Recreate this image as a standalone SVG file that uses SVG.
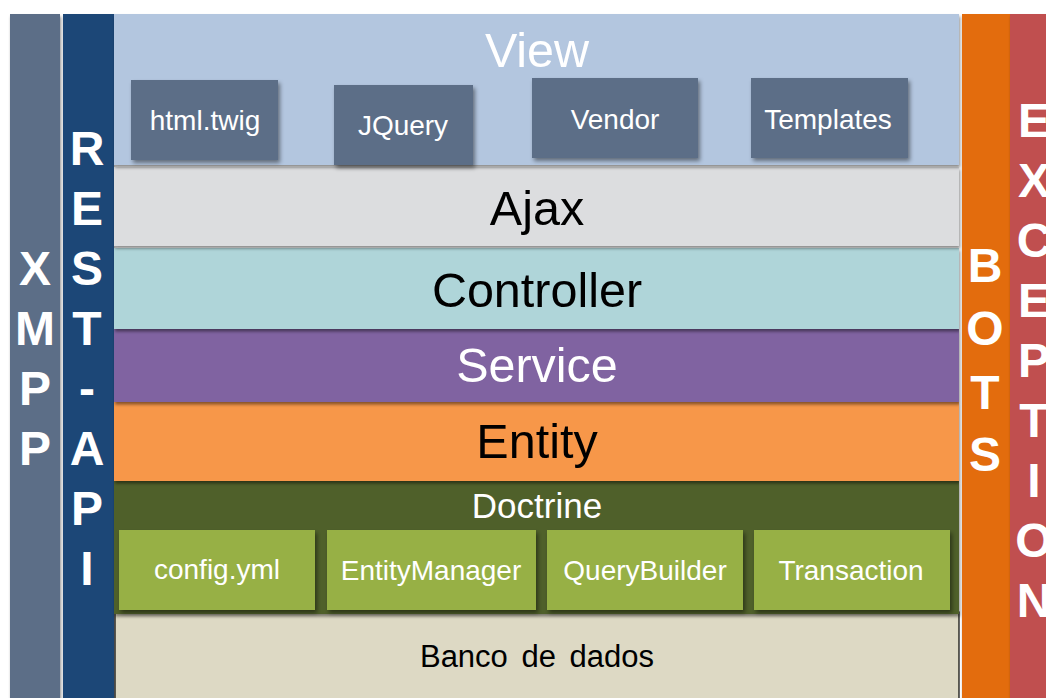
<svg xmlns="http://www.w3.org/2000/svg" width="1046" height="698" viewBox="0 0 1046 698">
  <defs>
    <filter id="shadow" x="-5%" y="-10%" width="110%" height="130%">
      <feDropShadow dx="1" dy="2.5" stdDeviation="1.5" flood-color="#000" flood-opacity="0.45"/>
    </filter>
    <filter id="boxshadow" x="-10%" y="-10%" width="125%" height="130%">
      <feDropShadow dx="2" dy="3" stdDeviation="2" flood-color="#000" flood-opacity="0.45"/>
    </filter>
  </defs>
  <style>
    text { font-family: "Liberation Sans", Arial, sans-serif; text-anchor: middle; }
    .vert { font-weight: bold; font-size: 48px; fill: #ffffff; }
    .layer { font-size: 48.5px; }
    .box { font-size: 28px; fill: #ffffff; }
    .dark { fill: #000000; }
    .light { fill: #ffffff; }
  </style>
  <rect width="1046" height="698" fill="#ffffff"/>

  <!-- side columns -->
  <g id="xmpp">
    <rect x="10" y="14" width="50" height="684" fill="#5b6e87" filter="url(#shadow)"/>
    <text class="vert" x="35" y="285">X</text>
    <text class="vert" x="35" y="345">M</text>
    <text class="vert" x="35" y="405">P</text>
    <text class="vert" x="35" y="465">P</text>
  </g>
  <g id="rest-api">
    <rect x="63" y="14" width="51" height="684" fill="#1f4677" filter="url(#shadow)"/>
    <text class="vert" x="87" y="165">R</text>
    <text class="vert" x="87" y="225">E</text>
    <text class="vert" x="87" y="285">S</text>
    <text class="vert" x="87" y="345">T</text>
    <text class="vert" x="87" y="405">-</text>
    <text class="vert" x="87" y="465">A</text>
    <text class="vert" x="87" y="525">P</text>
    <text class="vert" x="87" y="585">I</text>
  </g>

  <!-- Banco de dados (bottom layer) -->
  <g id="banco">
    <rect x="115" y="612" width="844" height="90" fill="#ddd9c4" stroke="#000000" stroke-width="1.2"/>
    <text x="537" y="667" font-size="31" class="dark" word-spacing="5">Banco de dados</text>
  </g>

  <!-- Doctrine layer -->
  <g id="doctrine">
    <rect x="114" y="481" width="845" height="133" fill="#4f6129" filter="url(#shadow)"/>
    <text x="537" y="518" font-size="35" class="light">Doctrine</text>
  </g>
  <g id="config-yml">
    <rect x="119" y="530" width="196" height="80" fill="#97b044" filter="url(#boxshadow)"/>
    <text class="box" x="217" y="579">config.yml</text>
  </g>
  <g id="entity-manager">
    <rect x="327" y="530" width="209" height="80" fill="#97b044" filter="url(#boxshadow)"/>
    <text class="box" x="431" y="580">EntityManager</text>
  </g>
  <g id="query-builder">
    <rect x="547" y="530" width="196" height="80" fill="#97b044" filter="url(#boxshadow)"/>
    <text class="box" x="645" y="580">QueryBuilder</text>
  </g>
  <g id="transaction">
    <rect x="754" y="530" width="196" height="80" fill="#97b044" filter="url(#boxshadow)"/>
    <text class="box" x="851" y="580">Transaction</text>
  </g>

  <!-- Entity layer -->
  <g id="entity">
    <rect x="114" y="402" width="845" height="79" fill="#f79748" filter="url(#shadow)"/>
    <text class="layer dark" x="537" y="458">Entity</text>
  </g>

  <!-- Service layer -->
  <g id="service">
    <rect x="114" y="329" width="845" height="73" fill="#8064a1" filter="url(#shadow)"/>
    <text class="layer light" x="537" y="382">Service</text>
  </g>

  <!-- Controller layer -->
  <g id="controller">
    <rect x="114" y="248" width="845" height="81" fill="#afd5d9" filter="url(#shadow)"/>
    <text class="layer dark" x="537" y="307">Controller</text>
  </g>

  <!-- Ajax layer -->
  <g id="ajax">
    <rect x="114" y="167" width="845" height="79" fill="#dcdddf" filter="url(#shadow)"/>
    <text class="layer dark" x="537" y="225">Ajax</text>
  </g>

  <!-- View layer -->
  <g id="view">
    <rect x="114" y="14" width="845" height="151" fill="#b3c6df" filter="url(#shadow)"/>
    <text class="layer light" x="537" y="67">View</text>
  </g>
  <g id="html-twig">
    <rect x="131" y="80" width="147" height="80" fill="#5b6e87" filter="url(#boxshadow)"/>
    <text class="box" x="205" y="130">html.twig</text>
  </g>
  <g id="jquery">
    <rect x="334" y="85" width="139" height="80" fill="#5b6e87" filter="url(#boxshadow)"/>
    <text class="box" x="403" y="135">JQuery</text>
  </g>
  <g id="vendor">
    <rect x="532" y="78" width="166" height="80" fill="#5b6e87" filter="url(#boxshadow)"/>
    <text class="box" x="615" y="129">Vendor</text>
  </g>
  <g id="templates">
    <rect x="751" y="78" width="157" height="80" fill="#5b6e87" filter="url(#boxshadow)"/>
    <text class="box" x="828" y="129">Templates</text>
  </g>

  <!-- right columns -->
  <g id="bots">
    <rect x="962" y="14" width="48" height="684" fill="#e36c0b" filter="url(#shadow)"/>
    <text class="vert" x="985" y="282">B</text>
    <text class="vert" x="985" y="345">O</text>
    <text class="vert" x="985" y="409">T</text>
    <text class="vert" x="985" y="471">S</text>
  </g>
  <g id="exception">
    <rect x="1010" y="14" width="40" height="684" fill="#c0504f" filter="url(#shadow)"/>
    <text class="vert" x="1034" y="137">E</text>
    <text class="vert" x="1034" y="197">X</text>
    <text class="vert" x="1034" y="257">C</text>
    <text class="vert" x="1034" y="317">E</text>
    <text class="vert" x="1034" y="377">P</text>
    <text class="vert" x="1034" y="437">T</text>
    <text class="vert" x="1034" y="497">I</text>
    <text class="vert" x="1034" y="557">O</text>
    <text class="vert" x="1034" y="617">N</text>
  </g>

  <!-- no connectors in this layered diagram -->
  <g id="connectors"/>
</svg>
